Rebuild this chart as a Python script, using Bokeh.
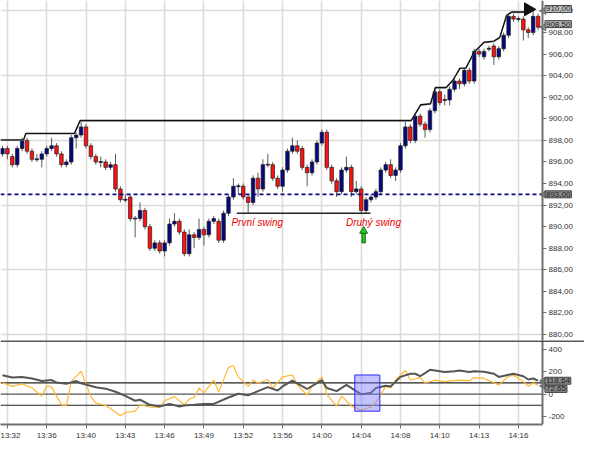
import math
from bokeh.plotting import figure
from bokeh.layouts import column
from bokeh.models import FixedTicker, Span, Label, Range1d, ColumnDataSource, Grid
from bokeh.embed import file_html
from bokeh.resources import INLINE

# ---------------- data ----------------
opens = [896.75, 897.25, 896.5, 895.75, 897.25, 898.0, 897.0, 896.25, 896.25, 896.75,
         897.25, 897.5, 896.75, 895.75, 896.0, 898.25, 898.5, 899.25, 897.5, 896.5,
         896.0, 896.0, 895.5, 895.75, 893.5, 892.5, 892.75, 890.75, 890.75, 891.5,
         890.0, 888.0, 888.5, 887.75, 888.5, 890.25, 890.5, 889.5, 887.5, 889.25,
         889.0, 889.75, 889.25, 890.5, 890.5, 888.75, 891.25, 892.75, 893.75, 893.75,
         892.75, 892.25, 894.5, 893.5, 895.75, 895.75, 894.5, 893.75, 895.25, 897.0,
         897.5, 897.25, 895.5, 895.0, 896.0, 897.75, 898.75, 895.5, 894.25, 893.25,
         895.25, 895.5, 893.25, 893.5, 891.5, 892.5, 892.75, 893.25, 895.25, 895.75,
         894.75, 895.25, 897.5, 899.25, 898.0, 900.25, 899.5, 899.0, 900.75, 902.5,
         901.75, 901.75, 902.75, 903.5, 903.25, 904.5, 903.5, 906.25, 905.75, 906.5,
         906.75, 905.75, 906.5, 907.75, 909.5, 909.25, 909.25, 908.25, 908.0, 909.5]
highs = [897.5, 897.5, 896.75, 897.5, 898.25, 898.25, 897.25, 896.75, 897.0, 897.5,
         898.25, 897.75, 897.0, 896.25, 898.5, 898.75, 899.75, 899.5, 897.75, 896.75,
         896.5, 896.25, 896.0, 896.75, 893.75, 893.0, 893.0, 891.0, 892.25, 891.75,
         890.25, 888.75, 888.75, 888.75, 890.75, 891.25, 890.75, 889.75, 889.75, 889.5,
         890.75, 890.0, 890.75, 891.0, 890.75, 891.5, 893.0, 894.5, 894.0, 894.0,
         893.0, 894.75, 895.0, 896.25, 896.75, 896.0, 894.75, 895.5, 897.25, 898.25,
         898.0, 897.5, 895.75, 896.25, 898.0, 899.0, 899.0, 895.75, 894.5, 895.5,
         896.5, 895.75, 894.25, 893.75, 892.75, 893.0, 893.5, 895.5, 896.0, 896.25,
         895.5, 897.75, 899.75, 899.5, 900.5, 900.5, 899.75, 901.0, 902.75, 902.75,
         902.25, 903.0, 903.75, 903.75, 904.75, 904.75, 906.5, 906.5, 906.5, 906.75,
         907.0, 906.75, 908.0, 909.75, 909.75, 909.5, 909.5, 908.5, 910.0, 909.75]
lows = [896.5, 896.25, 895.5, 895.5, 897.0, 896.75, 896.0, 896.0, 895.5, 896.5,
        897.0, 896.5, 895.5, 895.5, 895.75, 897.25, 898.25, 897.25, 896.25, 895.75,
        895.5, 895.25, 895.25, 893.25, 892.25, 892.25, 890.5, 889.0, 890.5, 889.75,
        887.75, 887.75, 887.5, 887.25, 888.25, 890.0, 889.25, 887.25, 887.25, 888.0,
        888.75, 888.25, 889.0, 890.25, 888.5, 888.5, 891.0, 892.5, 893.0, 892.5,
        891.25, 892.0, 892.75, 893.25, 895.5, 894.25, 893.5, 893.25, 895.0, 896.75,
        896.75, 895.25, 893.75, 894.75, 895.75, 897.5, 895.25, 894.0, 892.75, 893.0,
        895.0, 892.75, 893.0, 891.25, 891.25, 892.25, 892.5, 893.0, 895.0, 894.5,
        894.25, 895.0, 897.25, 897.75, 897.75, 899.25, 898.25, 898.75, 900.5, 901.25,
        901.25, 901.25, 902.5, 902.75, 903.0, 903.25, 903.25, 905.75, 905.5, 906.25,
        905.0, 905.5, 906.25, 907.5, 909.0, 909.0, 907.25, 907.5, 907.75, 908.25]
closes = [897.25, 896.75, 895.75, 897.25, 898.0, 897.0, 896.25, 896.25, 896.75, 897.25,
          897.5, 896.75, 895.75, 896.0, 898.25, 898.5, 899.25, 897.5, 896.5, 896.0,
          896.0, 895.5, 895.75, 893.5, 892.5, 892.5, 890.75, 890.75, 891.5, 890.0,
          888.0, 888.5, 887.75, 888.5, 890.25, 890.5, 889.5, 887.5, 889.25, 889.0,
          889.75, 889.25, 890.5, 890.75, 888.75, 891.25, 892.75, 893.75, 893.75, 892.75,
          892.25, 894.5, 893.5, 895.75, 895.75, 894.5, 893.75, 895.25, 897.0, 897.5,
          897.0, 895.5, 895.0, 896.0, 897.75, 898.75, 895.5, 894.25, 893.25, 895.25,
          895.5, 893.25, 893.5, 891.5, 892.5, 892.75, 893.25, 895.25, 895.75, 894.75,
          895.25, 897.5, 899.25, 898.0, 900.25, 899.5, 899.0, 900.75, 902.5, 901.5,
          901.75, 902.75, 903.5, 903.25, 904.5, 903.5, 906.25, 906.0, 906.25, 906.5,
          905.75, 906.5, 907.75, 909.5, 909.25, 909.25, 908.25, 908.0, 909.5, 908.5]

# trailing high line (bar position, price)
hh_bar = [-0.4, 4.3, 4.75, 14.65, 15.8, 83.2, 85.1, 87.1, 88.1, 90.3, 91.7, 93.1, 94.3,
          96.0, 98.0, 100.0, 101.2, 102.6, 103.6, 106.0, 108.2]
hh_price = [898.05, 898.05, 898.65, 898.65, 899.85, 899.85, 901.3, 901.4, 902.9, 902.9,
            903.6, 904.7, 904.7, 906.2, 907.1, 907.2, 907.55, 909.6, 909.9, 909.9, 910.1]

# oscillators
gray_bar = [0, 2, 4, 6, 8, 10, 11, 13, 15, 16, 19, 21, 23, 25, 27, 28, 30, 32, 34, 36, 37,
            39, 41, 43, 46, 48, 50, 52, 54, 56, 57, 59, 60, 62, 65, 66, 68, 70, 72, 73, 75,
            76, 78, 79, 81, 83, 84, 85, 87, 90, 92, 93, 95, 96, 98, 100, 101, 103, 104,
            106, 107, 108, 109]
gray_val = [167, 147, 153, 139, 116, 125, 102, 91, 116, 96, 60, 48, 20, -17, -60, -51, -96,
            -111, -88, -111, -102, -96, -88, -88, -31, 3, -11, 26, 62, 31, 68, 120, 96, 45,
            125, 54, 26, 82, 26, -3, 11, 54, 74, 68, 153, 181, 181, 159, 216, 196, 204, 210,
            196, 204, 199, 181, 153, 173, 181, 159, 130, 139, 119]
orange_bar = [0, 2, 4, 6, 8, 9, 10, 12, 13, 14, 16, 18, 19, 21, 22, 24, 25, 27, 28, 30, 32,
              33, 35, 37, 38, 39, 40, 41, 43, 44, 46, 47, 48, 50, 51, 52, 54, 55, 57, 59, 60,
              62, 63, 65, 66, 68, 69, 71, 72, 73, 75, 76, 77, 78, 79, 80, 82, 83, 85, 86,
              88, 90, 93, 95, 96, 98, 101, 103, 104, 106, 107, 108, 109]
orange_val = [102, 68, 91, 54, -17, 74, 62, -96, -102, 111, 204, -23, -79, -102, -130, -193,
              -165, -153, -96, -116, -116, -60, -23, -96, -45, -31, 54, 11, 125, 17, 238, 253,
              153, 68, 125, 96, 130, 54, 153, 170, 82, -11, 68, 153, -3, -108, -17, -108,
              -125, -145, -116, -74, -3, 68, 54, 125, 210, 125, 147, 96, 125, 111, 125, 119,
              147, 139, 82, 159, 167, 111, 68, 102, 73]

tick_bars = [1, 9, 17, 25, 33, 41, 49, 57, 65, 73, 81, 89, 97, 105]
time_labels = ["13:32", "13:36", "13:40", "13:43", "13:46", "13:49", "13:52", "13:56",
               "14:00", "14:04", "14:08", "14:10", "14:13", "14:16"]
price_ticks = list(range(880, 911, 2))
price_grid = [880, 886, 892, 898, 904, 910]
osc_ticks = [-200, 0, 200, 400]
osc_levels = [100, 0, -100]
ref_price = 893.0
swing_level = 891.25
swing_from, swing_to = 47.7, 74.9
box_from, box_to, box_low, box_high = 71.7, 76.8, -153, 170

# ---------------- figures ----------------
FONT = "Liberation Sans"
n = len(opens)
bars = list(range(n))
up = [c >= o for o, c in zip(opens, closes)]
src = ColumnDataSource(dict(
    x=bars, o=opens, h=highs, l=lows, c=closes,
    top=[max(o, c) + (0.04 if o == c else 0) for o, c in zip(opens, closes)],
    bot=[min(o, c) - (0.04 if o == c else 0) for o, c in zip(opens, closes)],
    col=["#06067f" if u else "#ff1010" for u in up],
))

W = 584
X0 = -0.4
AX = 109.9            # where the price axis stands (right edge of the chart area)
PPB = 542 / (AX - X0)  # pixels per bar
xr = Range1d(X0, X0 + W / PPB)
HAS_CB = "cross_bounds" in Grid.properties()


def style_axis(a):
    a.axis_line_color = "#707070"
    a.axis_line_width = 2
    a.major_tick_out = 4
    a.major_tick_in = 0
    a.major_tick_line_color = "#707070"
    a.minor_tick_line_color = None
    a.major_label_text_font = FONT
    a.major_label_text_font_size = "8px"
    a.major_label_text_color = "#333333"
    a.major_label_standoff = 2


def setup(p, ygrid_ticks):
    p.outline_line_color = None
    p.xgrid.ticker = FixedTicker(ticks=tick_bars)
    p.xgrid.grid_line_color = "#dedbd5"
    p.xgrid.grid_line_width = 1.6
    if ygrid_ticks:
        p.ygrid.ticker = FixedTicker(ticks=ygrid_ticks)
        p.ygrid.grid_line_color = "#dedbd5"
        p.ygrid.grid_line_width = 1.6
        if HAS_CB:
            p.ygrid.cross_bounds = (X0, AX)
    else:
        p.ygrid.grid_line_color = None
    ya = p.yaxis[0]
    ya.fixed_location = AX
    style_axis(ya)
    return ya


def tag(p, y, text, fill, yoff=0):
    p.scatter(x=[AX + 0.25], y=[y], marker="triangle", angle=math.pi / 2, size=7,
              fill_color=fill, line_color="#444444", line_width=0.8)
    p.add_layout(Label(x=AX + 0.5, y=y, y_offset=yoff, text=text,
                       text_font=FONT, text_font_size="8px", text_color="#1a1a1a",
                       text_baseline="middle", background_fill_color=fill,
                       border_line_color="#444444", padding=1))


p1 = figure(width=W, height=340, x_range=xr, y_range=Range1d(879.45, 910.97),
            y_axis_location="right", x_axis_location=None, toolbar_location=None,
            output_backend="svg", min_border_left=0, min_border_top=0,
            min_border_bottom=0, min_border_right=0)
ya = setup(p1, price_grid)
ya.ticker = FixedTicker(ticks=price_ticks)
ya.major_label_overrides = {t: f"{t},00" for t in price_ticks}

# candles
p1.segment(x0="x", y0="h", x1="x", y1="l", source=src, line_color="#5a5a5a", line_width=1)
p1.vbar(x="x", top="top", bottom="bot", width=0.72, source=src, fill_color="col",
        line_color="#202020", line_width=0.7)

# trailing high line
p1.line(hh_bar, [v - 0.06 for v in hh_price], line_color="#9a9a9a", line_width=1)
p1.line(hh_bar, hh_price, line_color="#111111", line_width=1.4)

# reference dashed line
p1.segment(x0=[X0], y0=[ref_price], x1=[AX], y1=[ref_price], line_color="#0a0a80",
           line_dash="4 3", line_width=1.6)

# swing line
p1.segment(x0=[swing_from], y0=[swing_level], x1=[swing_to], y1=[swing_level],
           line_color="#222222", line_width=1.5)

for txt, xx in (("První swing", 46.6), ("Druhý swing", 69.9)):
    p1.add_layout(Label(x=xx, y=890.35, text=txt, text_font=FONT, text_font_size="10px",
                        text_font_style="italic", text_color="#ee0000",
                        text_baseline="middle"))

# green arrow
p1.quad(left=[73.15], right=[73.85], bottom=[888.5], top=[889.45],
        fill_color="#22cc22", line_color="#0b4d0b", line_width=0.8)
p1.scatter(x=[73.5], y=[889.6], marker="triangle", size=8, fill_color="#22cc22",
           line_color="#0b4d0b", line_width=0.8)

# black arrow at top
p1.scatter(x=[107.0], y=[910.15], marker="triangle", angle=-math.pi / 2, size=13,
           fill_color="#111111", line_color="#111111")

tag(p1, 910.0, "910,00", "#c4c4c4", 2)
tag(p1, 908.5, "908,50", "#b0b0b0", 3)
tag(p1, ref_price, "893,00", "#8a8a8a")

# ---------------- oscillator panel ----------------
p2 = figure(width=W, height=102, x_range=xr, y_range=Range1d(-272, 478),
            y_axis_location="right", toolbar_location=None, output_backend="svg",
            min_border_left=0, min_border_top=0, min_border_bottom=0, min_border_right=0)
ya2 = setup(p2, None)
ya2.ticker = FixedTicker(ticks=osc_ticks)
ya2.major_label_overrides = {t: str(t) for t in osc_ticks}
xa = p2.xaxis[0]
xa.ticker = FixedTicker(ticks=tick_bars)
xa.major_label_overrides = {b: t for b, t in zip(tick_bars, time_labels)}
xa.bounds = (X0, AX)
style_axis(xa)

p2.add_layout(Span(location=474, dimension="width", line_color="#222222", line_width=1.5))
p2.segment(x0=[X0] * 3, y0=osc_levels, x1=[AX] * 3, y1=osc_levels,
           line_color=["#222222", "#555555", "#222222"], line_width=1.2)

p2.line(orange_bar, orange_val, line_color="#ffb833", line_width=1.2)
p2.line(gray_bar, gray_val, line_color="#555555", line_width=2)
p2.quad(left=[box_from], right=[box_to], bottom=[box_low], top=[box_high],
        fill_color="#7a7aff", fill_alpha=0.45, line_color="#2a2aff", line_width=1)

tag(p2, 72.65, "72,65", "#8a8a8a", -3)
tag(p2, 118.64, "118,64", "#8a8a8a")

layout = column(p1, p2, spacing=0)
open("out.html", "w").write(file_html(layout, INLINE))
